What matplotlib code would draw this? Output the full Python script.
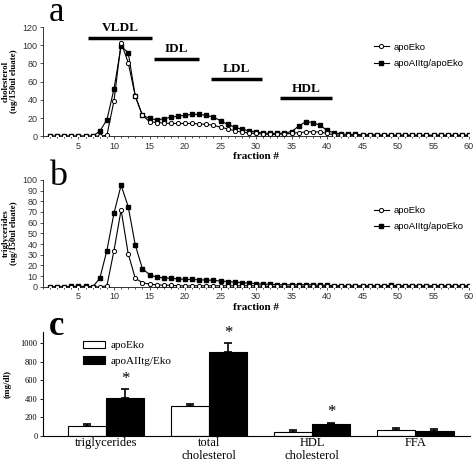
"""Lipoprotein FPLC profiles and plasma lipids (panels a-c)."""
import matplotlib
matplotlib.use('Agg')
import matplotlib.pyplot as plt
import numpy as np

SERIF = 'Liberation Serif'
SANS = 'Liberation Sans'

# fractions 1..60
fractions = list(range(1, 61))

# panel a: cholesterol (ug/150ul eluate)
chol_apoEko = [0, 0, 0, 0, 0, 0, 0, 0, 1, 39,
               103, 81, 44, 23, 16, 15, 14.5, 14, 14, 14,
               14, 13.5, 13, 12, 10, 8, 6, 4.5, 3.5, 3,
               2.5, 2, 2, 2.5, 3, 4, 4.5, 5, 4.5, 3,
               1.5, 1, 1, 1, 1, 1, 1, 1, 1, 1,
               1, 1, 1, 1, 1, 1, 1, 1, 1, 1]
chol_apoAII = [0, 0, 0, 0, 0, 0, 0, 5.5, 18, 52,
               99, 92, 44, 23, 19.5, 18, 19, 21, 22, 23,
               24, 24, 23, 21, 17, 13, 10, 7.5, 6, 4.5,
               3.5, 3, 3, 3.5, 5, 11, 16, 15, 12, 6.5,
               3.5, 2.5, 2, 2, 1.5, 1.5, 1.5, 1, 1, 1,
               1, 1, 1, 1, 1, 1, 1, 1, 1, 1]

# panel b: triglycerides (ug/150ul eluate)
tg_apoEko = [0, 0, 0, 0, 0, 0, 0, 0, 1, 34,
             72, 31, 8, 4, 2.5, 2, 1.5, 1.5, 1, 1,
             1, 1, 1, 1, 1, 1, 1, 1, 1, 1,
             0.5, 0.5, 0.5, 0.5, 0.5, 0.5, 0.5, 0.5, 0.5, 0.5,
             0.5, 0.5, 0.5, 0.5, 0.5, 0.5, 0.5, 0.5, 0.5, 0.5,
             0.5, 0.5, 0.5, 0.5, 0.5, 0.5, 0.5, 0.5, 0.5, 0.5]
tg_apoAII = [0, 0, 0, 0.5, 0.5, 0.5, 0, 8, 34, 69,
             95, 75, 39, 17, 11.5, 9, 8.5, 8, 7.5, 7,
             7, 6.5, 6.5, 6, 5.5, 5, 4.5, 4, 3.5, 3,
             2.5, 2.5, 2, 2, 2, 2, 2, 2, 1.5, 1.5,
             1, 1, 1, 1, 1, 1, 1, 1, 1.5, 1,
             1, 1, 1, 1, 1, 1, 1, 1, 1, 1]

# lipoprotein regions: (label, start, end, bar y, text y)
regions = [('VLDL', 6.4, 15.4, 108, 112),
           ('IDL', 15.6, 21.9, 85, 89),
           ('LDL', 23.6, 30.9, 63, 67),
           ('HDL', 33.4, 40.7, 41.5, 45.5)]

# panel c: plasma lipids (mg/dl)
categories = ['triglycerides', 'total\ncholesterol', 'HDL\ncholesterol', 'FFA']
plasma_apoEko = [107, 326, 43, 61]
plasma_apoEko_err = [22, 22, 22, 21]
plasma_apoAII = [412, 907, 125, 54]
plasma_apoAII_err = [90, 93, 18, 18]
significant = [True, True, True, False]

fig = plt.figure(figsize=(4.75, 4.68), dpi=100)


def profile_axes(rect, y_apoEko, y_apoAII, ymax, ystep, ylabel, leg_y):
    ax = fig.add_axes(rect)
    ax.plot(fractions, y_apoEko, '-o', color='black', lw=0.8, ms=3.0,
            mfc='white', mec='black', mew=0.7, label='apoEko', zorder=3)
    ax.plot(fractions, y_apoAII, '-s', color='black', lw=0.8, ms=2.8,
            mfc='black', mec='black', label='apoAIItg/apoEko', zorder=2)
    ax.set_xlim(0, 60)
    ax.set_ylim(0, ymax)
    ax.set_xticks(range(5, 61, 5))
    ax.set_xticks(range(0, 61), minor=True)
    ax.set_yticks(np.arange(0, ymax + 1, ystep))
    ax.spines['top'].set_visible(False)
    ax.spines['right'].set_visible(False)
    for s in ('left', 'bottom'):
        ax.spines[s].set_linewidth(0.7)
        ax.spines[s].set_color('#333333')
    ax.tick_params(labelsize=6.5, length=2.5, width=0.6, pad=1.5,
                   colors='#333333')
    ax.tick_params(which='minor', length=1.2, width=0.5)
    for lab in ax.get_xticklabels() + ax.get_yticklabels():
        lab.set_family(SANS)
    ax.set_xlabel('fraction #', family=SERIF, fontweight='bold',
                  fontsize=8, labelpad=1)
    ax.set_ylabel(ylabel, family=SERIF, fontweight='bold', fontsize=6.5,
                  labelpad=3, linespacing=1.1)
    ax.legend(loc='upper left', bbox_to_anchor=(0.765, leg_y),
              frameon=False, handlelength=1.6,
              handletextpad=0.5, labelspacing=0.75, borderpad=0,
              prop={'family': SANS, 'size': 6.8})
    return ax


ax_a = profile_axes([0.0905, 0.709, 0.897, 0.233], chol_apoEko, chol_apoAII,
                    120, 20, 'cholesterol\n(ug/150ul eluate)', 0.9)
for name, x0, x1, yb, yt in regions:
    ax_a.plot([x0, x1], [yb, yb], color='black', lw=2.5,
              solid_capstyle='butt', clip_on=False)
    ax_a.text((x0 + x1) / 2, yt, name, ha='center', va='bottom',
              family=SERIF, fontweight='bold', fontsize=9.5, clip_on=False)

ax_b = profile_axes([0.0905, 0.387, 0.897, 0.2286], tg_apoEko, tg_apoAII,
                    100, 10, 'triglycerides\n(ug/150ul eluate)', 0.8)

# panel c: bars
ax_c = fig.add_axes([0.0905, 0.0684, 0.899, 0.2222])
pos = np.arange(1, len(categories) + 1)
w = 0.37
ax_c.bar(pos - w / 2, plasma_apoEko, w, color='white', edgecolor='black',
         lw=0.8, label='apoEko', zorder=2)
ax_c.bar(pos + w / 2, plasma_apoAII, w, color='black', edgecolor='black',
         lw=0.8, label='apoAIItg/Eko', zorder=2)
ax_c.errorbar(pos - w / 2, plasma_apoEko,
              yerr=[np.zeros(len(pos)), plasma_apoEko_err], fmt='none',
              ecolor='black', elinewidth=1.2, capsize=3, capthick=1.2, zorder=1)
ax_c.errorbar(pos + w / 2, plasma_apoAII,
              yerr=[np.zeros(len(pos)), plasma_apoAII_err], fmt='none',
              ecolor='black', elinewidth=1.2, capsize=3, capthick=1.2, zorder=1)
for p, v, e, sig in zip(pos, plasma_apoAII, plasma_apoAII_err, significant):
    if sig:
        ax_c.text(p + w / 2, v + e + 25, '*', ha='center', va='bottom',
                  family=SERIF, fontsize=12, clip_on=False)
ax_c.set_xlim(0.39, 4.53)
ax_c.set_ylim(0, 1120)
ax_c.set_yticks(range(0, 1001, 200))
ax_c.set_xticks(pos)
ax_c.set_xticklabels(categories, family=SERIF, fontsize=9, linespacing=1.1)
ax_c.tick_params(axis='x', length=0, pad=1)
ax_c.tick_params(axis='y', labelsize=6, length=2.5, width=0.6, pad=1.5)
for lab in ax_c.get_yticklabels():
    lab.set_family(SERIF)
ax_c.spines['top'].set_visible(False)
ax_c.spines['right'].set_visible(False)
for s in ('left', 'bottom'):
    ax_c.spines[s].set_linewidth(0.8)
ax_c.set_ylabel('(mg/dl)', family=SERIF, fontweight='bold', fontsize=6.5,
                labelpad=6)
ax_c.legend(loc='upper left', bbox_to_anchor=(0.08, 0.97), frameon=False,
            handlelength=2.0, handleheight=0.7, handletextpad=0.5,
            labelspacing=0.5, borderpad=0, prop={'family': SERIF, 'size': 8})

# panel letters
fig.text(0.103, 0.956, 'a', family=SERIF, fontsize=25, va='baseline')
fig.text(0.103, 0.605, 'b', family=SERIF, fontsize=26, va='baseline')
fig.text(0.103, 0.284, 'c', family=SERIF, fontsize=25, fontweight='bold',
         va='baseline')

plt.savefig('out.png', dpi=100)
print("Saved out.png")
